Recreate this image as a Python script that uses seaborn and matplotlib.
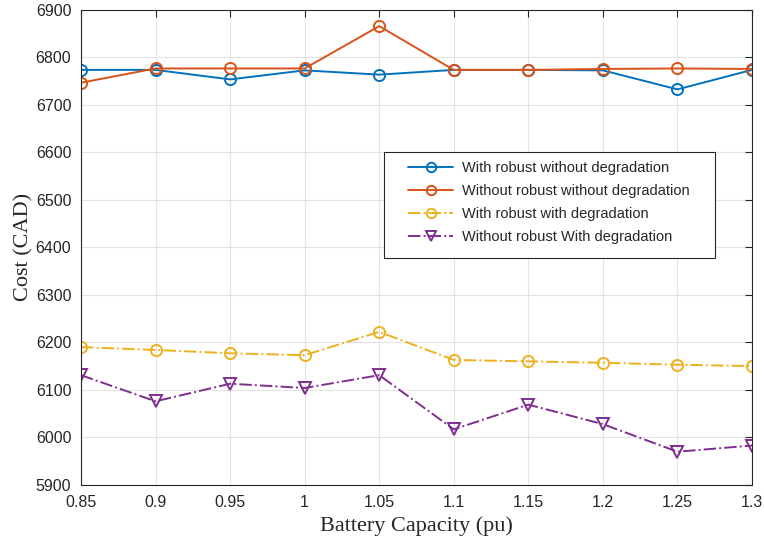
import matplotlib
matplotlib.use("Agg")
import matplotlib.pyplot as plt
from matplotlib.patches import Rectangle
import seaborn as sns
import numpy as np

capacity = [0.85, 0.9, 0.95, 1.0, 1.05, 1.1, 1.15, 1.2, 1.25, 1.3]
robust_no_deg = [6773, 6773, 6753, 6772, 6763, 6773, 6773, 6772, 6732, 6773]
norobust_no_deg = [6746, 6776, 6776, 6776, 6865, 6773, 6773, 6775, 6776, 6775]
robust_deg = [6190, 6184, 6177, 6173, 6222, 6163, 6160, 6157, 6153, 6150]
norobust_deg = [6131, 6076, 6113, 6104, 6131, 6017, 6069, 6028, 5970, 5983]

labels = [
    "With robust without degradation",
    "Without robust without degradation",
    "With robust with degradation",
    "Without robust With degradation",
]
xticks = [0.85, 0.9, 0.95, 1.0, 1.05, 1.1, 1.15, 1.2, 1.25, 1.3]
xticklabels = ["0.85", "0.9", "0.95", "1", "1.05", "1.1", "1.15", "1.2", "1.25", "1.3"]

sns.set_style("whitegrid")
plt.rcParams["font.family"] = ["Liberation Sans", "DejaVu Sans"]

fig = plt.figure(figsize=(7.64, 5.44), dpi=100)
ax = fig.add_axes([81 / 764, 1 - 485 / 544, (752 - 81) / 764, (485 - 9.5) / 544])

styles = [
    (robust_no_deg, "#0072BD", "-", "o"),
    (norobust_no_deg, "#D95319", "-", "o"),
    (robust_deg, "#EDB120", "-.", "o"),
    (norobust_deg, "#7E2F8E", "-.", "v"),
]
for (vals, color, ls, mk), lab in zip(styles, labels):
    sns.lineplot(
        x=capacity, y=vals, ax=ax, color=color, linestyle=ls, marker=mk,
        markersize=9 if mk == "v" else 8, markerfacecolor="none",
        markeredgecolor=color, markeredgewidth=1.4, linewidth=1.4,
        label=lab,
    )

ax.set_xlim(0.85, 1.3)
ax.set_ylim(5900, 6900)
ax.set_xticks(xticks)
ax.set_xticklabels(xticklabels)
ax.set_yticks(np.arange(5900, 6901, 100))
ax.tick_params(direction="in", length=5, width=0.8, colors="#262626",
               labelsize=11.5, top=True, right=True, pad=7)
ax.grid(True, color="#e3e3e3", linewidth=0.8)
for s in ax.spines.values():
    s.set_visible(True)
    s.set_color("#262626")
    s.set_linewidth(0.8)

ax.set_xlabel("Battery Capacity (pu)", family=["Liberation Serif"], fontsize=16,
              color="#262626", labelpad=5)
ax.set_ylabel("Cost (CAD)", family=["Liberation Serif"], fontsize=16,
              color="#262626", labelpad=1.5)

# legend box with wide side margins
box_x0, box_x1 = 0.4516, 0.9449
box_y0, box_y1 = 0.4774, 0.7003
ax.add_patch(Rectangle((box_x0, box_y0), box_x1 - box_x0, box_y1 - box_y0,
                       transform=ax.transAxes, facecolor="white",
                       edgecolor="#262626", linewidth=0.8, zorder=4.9))
leg = ax.legend(loc="upper left", bbox_to_anchor=(0.4873, 0.6814),
                borderaxespad=0, borderpad=0, fontsize=10.5, frameon=False,
                labelspacing=0.62, handlelength=3.1, handletextpad=0.6,
                markerscale=0.85)
leg.set_zorder(5)

fig.savefig("out.png", dpi=100)
